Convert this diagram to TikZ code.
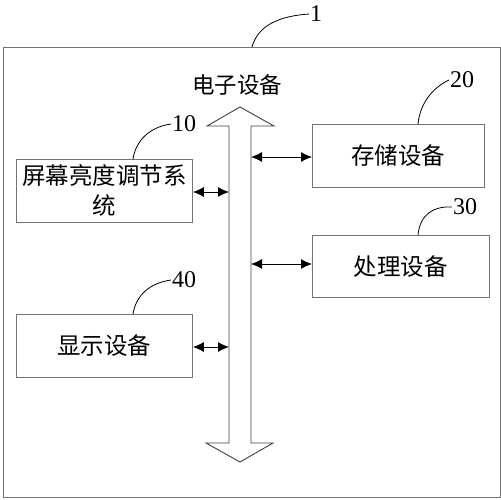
\documentclass[tikz,border=0pt]{standalone}
\usepackage{fontspec}
\setmainfont{Liberation Serif}
\newfontfamily\cjk{Noto Sans CJK SC}
\usetikzlibrary{arrows.meta}
\begin{document}
\begin{tikzpicture}[x=1pt,y=-1pt,
  blk/.style={draw=gray!90!black, line width=0.9pt, minimum height=63pt, inner sep=0pt, font=\cjk\fontsize{23.5}{30}\selectfont, align=center},
  num/.style={font=\fontsize{24}{24}\selectfont, inner sep=1pt},
  lead/.style={draw=black, line width=0.8pt},
  conn/.style={draw=black, line width=0.9pt, {Latex[length=11pt,width=10pt]}-{Latex[length=11pt,width=10pt]}}]
\useasboundingbox (0,0) rectangle (501,500);
% outer frame
\node[draw=gray!90!black, line width=0.9pt, minimum width=497pt, minimum height=450pt, inner sep=0pt, anchor=north west] (dev) at (3,47) {};
\node[font=\cjk\fontsize{22.5}{22.5}\selectfont] (title) at (237,85) {电子设备};
% bus arrow
\draw[draw=black!75, line width=0.9pt, fill=white]
  (240,107) -- (274,126) -- (251,126) -- (251,443) -- (273,443) -- (240,462)
  -- (206,443) -- (229,443) -- (229,126) -- (207,126) -- cycle;
\coordinate (b10) at (229,192);
\coordinate (b40) at (229,347);
\coordinate (b20) at (251,157);
\coordinate (b30) at (251,264);
% boxes
\node[blk, minimum width=176pt, anchor=north west] (s10) at (16,159) {屏幕亮度调节系\\统};
\node[blk, minimum width=176pt, anchor=north west] (s40) at (16,314) {显示设备};
\node[blk, minimum width=172pt, anchor=north west] (s20) at (312,124) {存储设备};
\node[blk, minimum width=177pt, minimum height=62pt, anchor=north west] (s30) at (312,235) {处理设备};
% connectors
\draw[conn] (s10.east |- b10) -- (b10);
\draw[conn] (s40.east |- b40) -- (b40);
\draw[conn] (b20) -- (s20.west |- b20);
\draw[conn] (b30) -- (s30.west |- b30);
% reference numerals
\node[num, anchor=west] (n1) at (309,14) {1};
\node[num, anchor=west] (n10) at (171,124) {10};
\node[num, anchor=west] (n40) at (171,280) {40};
\node[num, anchor=west] (n20) at (449,80) {20};
\node[num, anchor=west] (n30) at (452,207) {30};
\coordinate (p1) at (252,47);
\draw[lead] (p1) .. controls (258,25) and (280,16) .. (n1.west);
\draw[lead] (s10.north -| 133,0) .. controls (136,140) and (150,127) .. (n10.west);
\draw[lead] (s40.north -| 133,0) .. controls (136,295) and (150,283) .. (n40.west);
\draw[lead] (s20.north -| 418,0) .. controls (420,104) and (432,88) .. (n20.west);
\draw[lead] (s30.north -| 418,0) .. controls (420,214) and (434,206) .. (n30.west);
\end{tikzpicture}
\end{document}
